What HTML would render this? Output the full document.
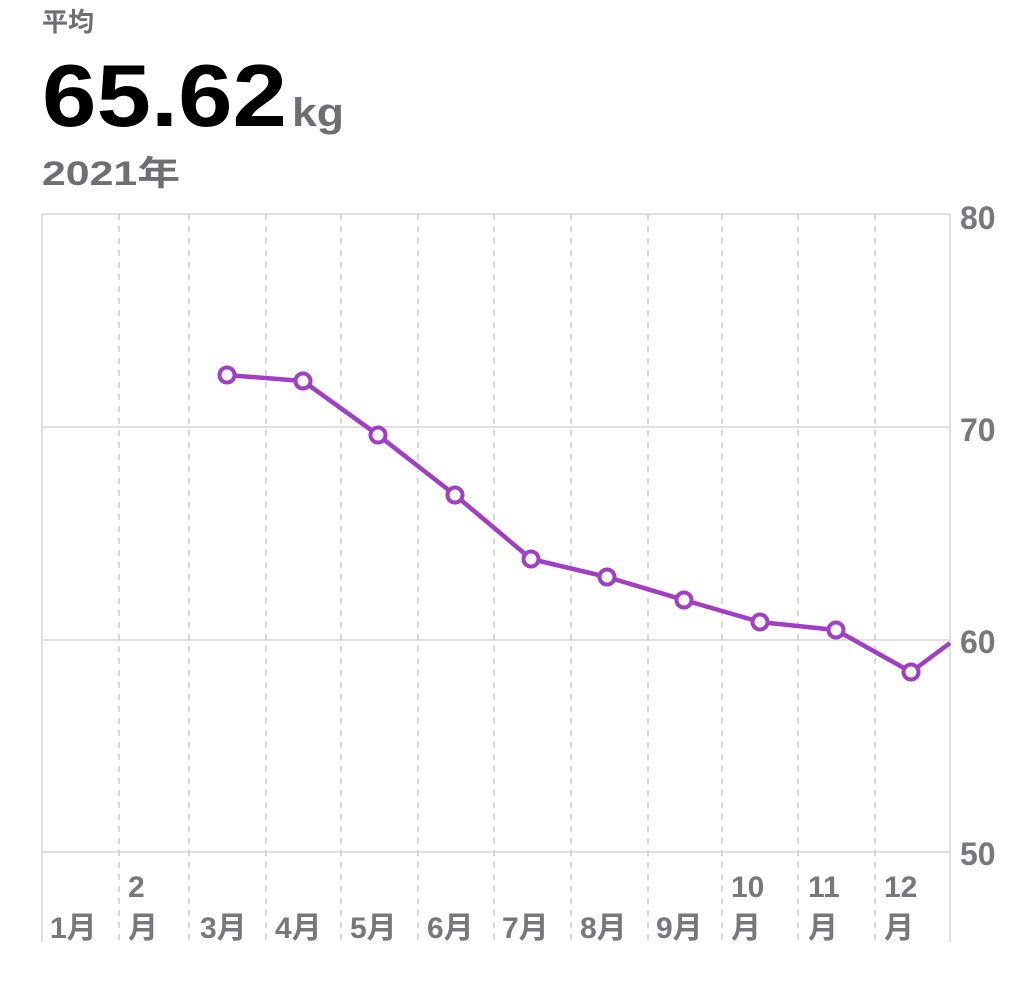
<!DOCTYPE html>
<html><head><meta charset="utf-8"><style>
body{margin:0;background:#fff;width:1024px;height:1008px;overflow:hidden;font-family:"Liberation Sans","Noto Sans CJK JP",sans-serif;}
</style></head><body>
<svg width="1024" height="1008" xmlns="http://www.w3.org/2000/svg" style="position:absolute;left:0;top:0">
<g font-family="Liberation Sans, Noto Sans CJK JP, sans-serif" font-weight="bold">
<text x="42" y="31" font-size="26" fill="#6e6e73">平均</text>
<text x="42" y="126" font-size="88" fill="#000" textLength="245" lengthAdjust="spacingAndGlyphs">65.62</text>
<text x="292" y="126" font-size="40" fill="#6e6e73" textLength="52" lengthAdjust="spacingAndGlyphs">kg</text>
<text x="42" y="185" font-size="34" fill="#6e6e73" textLength="138" lengthAdjust="spacingAndGlyphs">2021年</text>
</g>
<g stroke="#d6d6d6" stroke-width="1.5">
<line x1="42" y1="214" x2="950" y2="214"/>
<line x1="42" y1="427" x2="950" y2="427"/>
<line x1="42" y1="640" x2="950" y2="640"/>
<line x1="42" y1="852" x2="950" y2="852"/>
<line x1="42" y1="214" x2="42" y2="942"/>
<line x1="950" y1="214" x2="950" y2="942"/>
</g>
<g stroke="#c4c4c4" stroke-width="1.3" stroke-dasharray="6,6">
<line x1="119" y1="214" x2="119" y2="942"/><line x1="189" y1="214" x2="189" y2="942"/>
<line x1="266" y1="214" x2="266" y2="942"/><line x1="341" y1="214" x2="341" y2="942"/>
<line x1="418" y1="214" x2="418" y2="942"/><line x1="494" y1="214" x2="494" y2="942"/>
<line x1="571" y1="214" x2="571" y2="942"/><line x1="648" y1="214" x2="648" y2="942"/>
<line x1="722" y1="214" x2="722" y2="942"/><line x1="798" y1="214" x2="798" y2="942"/>
<line x1="875" y1="214" x2="875" y2="942"/>
</g>
<g font-family="Liberation Sans, Noto Sans CJK JP, sans-serif" font-weight="bold" font-size="32" fill="#77777c">
<text x="960" y="229">80</text><text x="960" y="441">70</text><text x="960" y="653">60</text><text x="960" y="865">50</text>
</g>
<g font-family="Liberation Sans, Noto Sans CJK JP, sans-serif" font-weight="bold" font-size="30" fill="#77777c">
<text x="50" y="938">1月</text>
<text x="128" y="897">2</text><text x="128" y="938">月</text>
<text x="200" y="938">3月</text><text x="275" y="938">4月</text><text x="350" y="938">5月</text>
<text x="427" y="938">6月</text><text x="502" y="938">7月</text><text x="580" y="938">8月</text>
<text x="656" y="938">9月</text>
<text x="731" y="897">10</text><text x="731" y="938">月</text>
<text x="808" y="897">11</text><text x="808" y="938">月</text>
<text x="884" y="897">12</text><text x="884" y="938">月</text>
</g>
<polyline fill="none" stroke="#a03ec4" stroke-width="4.5" stroke-linejoin="round" points="227,375 303,381 378,435 455,495 531,559 607,577 684,600 760,622 836,630 911,672 950,643"/>
<g fill="#fff" stroke="#a03ec4" stroke-width="4">
<circle cx="227" cy="375" r="7.5"/><circle cx="303" cy="381" r="7.5"/><circle cx="378" cy="435" r="7.5"/>
<circle cx="455" cy="495" r="7.5"/><circle cx="531" cy="559" r="7.5"/><circle cx="607" cy="577" r="7.5"/>
<circle cx="684" cy="600" r="7.5"/><circle cx="760" cy="622" r="7.5"/><circle cx="836" cy="630" r="7.5"/>
<circle cx="911" cy="672" r="7.5"/>
</g>
</svg>
</body></html>
